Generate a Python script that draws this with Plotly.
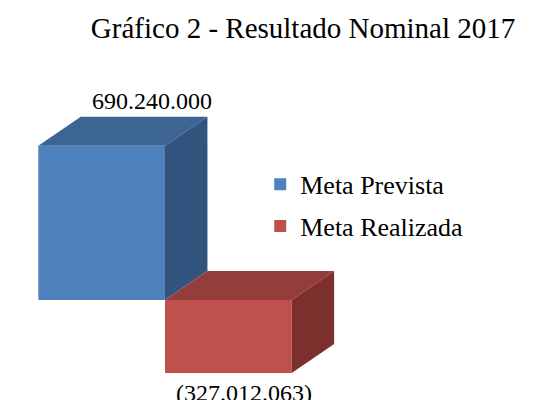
import plotly.graph_objects as go

# ---- data ----
series_names = ["Meta Prevista", "Meta Realizada"]
series_values = [690240000, -327012063]
value_labels = ["690.240.000", "(327.012.063)"]
title_text = "Gráfico 2 - Resultado Nominal 2017"

# ---- style ----
front_colors = ["#4F81BD", "#C0504D"]
top_colors = ["#3D6593", "#943E3C"]
side_colors = ["#33547E", "#7B302E"]
DEPTH_X = 0.335          # depth offset in x-axis units
DEPTH_Y = 130e6          # depth offset in y-axis units
FONT = "Liberation Serif, Times New Roman, serif"

fig = go.Figure()

positions = list(range(len(series_values)))

# front faces (real bars)
for i, (name, v) in enumerate(zip(series_names, series_values)):
    fig.add_trace(go.Bar(
        x=[positions[i]], y=[v], width=1, name=name,
        marker=dict(color=front_colors[i], line=dict(width=0)),
        legendgroup=name, hoverinfo="skip",
    ))

# top and side faces derived from the values
for i, v in enumerate(series_values):
    x = positions[i]
    top = max(v, 0)
    base = min(v, 0)
    # top face
    fig.add_trace(go.Scatter(
        x=[x - 0.5, x + 0.5, x + 0.5 + DEPTH_X, x - 0.5 + DEPTH_X, x - 0.5],
        y=[top, top, top + DEPTH_Y, top + DEPTH_Y, top],
        fill="toself", fillcolor=top_colors[i], mode="lines",
        line=dict(width=0, color=top_colors[i]), showlegend=False, hoverinfo="skip",
    ))
    # side face
    fig.add_trace(go.Scatter(
        x=[x + 0.5, x + 0.5, x + 0.5 + DEPTH_X, x + 0.5 + DEPTH_X, x + 0.5],
        y=[base, top, top + DEPTH_Y, base + DEPTH_Y, base],
        fill="toself", fillcolor=side_colors[i], mode="lines",
        line=dict(width=0, color=side_colors[i]), showlegend=False, hoverinfo="skip",
    ))

# value labels
label_shifts = [(50, 16), (16, -20)]
for i, (v, lab) in enumerate(zip(series_values, value_labels)):
    yref_val = v + DEPTH_Y if v >= 0 else v
    fig.add_annotation(
        x=positions[i], y=yref_val, text=lab, showarrow=False,
        xanchor="center", yanchor="middle",
        xshift=label_shifts[i][0], yshift=label_shifts[i][1],
        font=dict(family=FONT, size=24, color="#000000"),
    )

fig.update_layout(
    width=549, height=400,
    margin=dict(l=0, r=0, t=0, b=0),
    paper_bgcolor="white", plot_bgcolor="white",
    barmode="overlay",
    title=dict(text=title_text, x=0.552, xanchor="center", y=0.93, yanchor="middle",
               font=dict(family=FONT, size=29, color="#000000")),
    xaxis=dict(range=[-0.8023, 3.5307], visible=False, fixedrange=True),
    yaxis=dict(range=[-447.4e6, 1342.3e6], visible=False, fixedrange=True),
    legend=dict(x=0.474, xanchor="left", y=0.598, yanchor="top",
                font=dict(family=FONT, size=26, color="#000000"),
                bgcolor="rgba(0,0,0,0)", tracegroupgap=5, itemsizing="constant"),
    showlegend=True,
)

fig.write_html("out.html", config={"displayModeBar": False},
               post_script="document.body.style.margin='0';")
